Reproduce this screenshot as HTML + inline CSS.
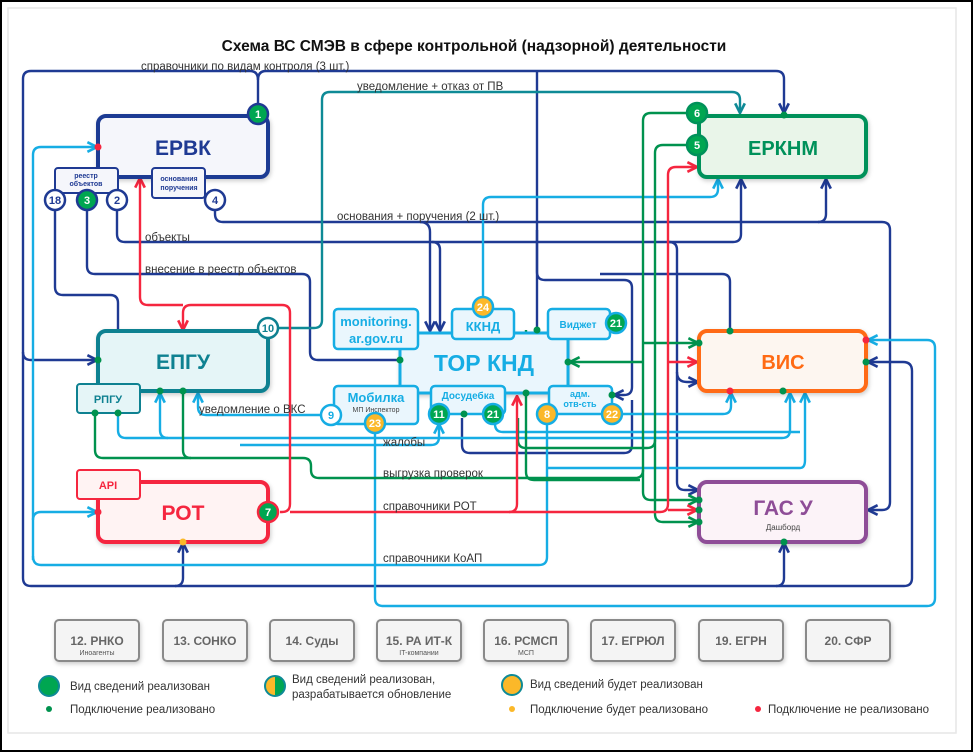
<!DOCTYPE html>
<html><head><meta charset="utf-8"><style>
html,body{margin:0;padding:0;background:#fff}
svg{display:block}
text{font-family:"Liberation Sans","DejaVu Sans",sans-serif}
</style></head><body>
<svg width="973" height="752" viewBox="0 0 973 752" xmlns="http://www.w3.org/2000/svg">
<defs>
<filter id="sh" x="-10%" y="-10%" width="130%" height="140%"><feDropShadow dx="1" dy="2" stdDeviation="2" flood-color="#000" flood-opacity="0.2"/></filter>
<marker id="aN" viewBox="0 0 10 10" refX="9" refY="5" markerWidth="5" markerHeight="5" orient="auto"><path d="M1,1 L9,5 L1,9" fill="none" stroke="#1f3a93" stroke-width="2.2"/></marker>
<marker id="aC" viewBox="0 0 10 10" refX="9" refY="5" markerWidth="5" markerHeight="5" orient="auto"><path d="M1,1 L9,5 L1,9" fill="none" stroke="#16ade4" stroke-width="2.2"/></marker>
<marker id="aG" viewBox="0 0 10 10" refX="9" refY="5" markerWidth="5" markerHeight="5" orient="auto"><path d="M1,1 L9,5 L1,9" fill="none" stroke="#00924e" stroke-width="2.2"/></marker>
<marker id="aR" viewBox="0 0 10 10" refX="9" refY="5" markerWidth="5" markerHeight="5" orient="auto"><path d="M1,1 L9,5 L1,9" fill="none" stroke="#f5263f" stroke-width="2.2"/></marker>
<marker id="aT" viewBox="0 0 10 10" refX="9" refY="5" markerWidth="5" markerHeight="5" orient="auto"><path d="M1,1 L9,5 L1,9" fill="none" stroke="#0e8a96" stroke-width="2.2"/></marker>
</defs>
<rect x="1" y="1" width="971" height="750" fill="#fff" stroke="#000" stroke-width="2"/>
<rect x="8" y="8" width="948" height="725" fill="#fff" stroke="#e6e6e6" stroke-width="1.5"/>
<text x="474" y="51" text-anchor="middle" font-size="15.5" font-weight="bold" fill="#111">Схема ВС СМЭВ в сфере контрольной (надзорной) деятельности</text>

<g fill="none" stroke-width="2.4" stroke-linejoin="round">
<g stroke="#1f3a93">
<path d="M258,104 V80 Q258,71 250,71 H31 Q23,71 23,79 V578 Q23,586 31,586 H904 Q912,586 912,578 V371 Q912,362 903,362 H868" marker-end="url(#aN)"/>
<path d="M258,80 Q258,71 266,71 H776 Q784,71 784,79 V113" marker-end="url(#aN)"/>
<path d="M23,352 Q23,360 31,360 H97" marker-end="url(#aN)"/>
<path d="M175,586 Q183,586 183,578 V543" marker-end="url(#aN)"/>
<path d="M776,586 Q784,586 784,578 V543" marker-end="url(#aN)"/>
<path d="M55,210 V287 Q55,295 63,295 H110 Q118,295 118,303 V330"/>
<path d="M87,210 V266 Q87,274 95,274 H302 Q310,274 310,282 V352 Q310,360 318,360 H400"/>
<path d="M117,210 V234 Q117,242 125,242 H733 Q741,242 741,234 V179" marker-end="url(#aN)"/>
<path d="M669,242 Q677,242 677,250 V482 Q677,490 685,490 H698" marker-end="url(#aN)"/>
<path d="M215,210 V214 Q215,222 223,222 H818 Q826,222 826,214 V179" marker-end="url(#aN)"/>
<path d="M818,222 H882 Q890,222 890,230 V502 Q890,510 882,510 H868" marker-end="url(#aN)"/>
<path d="M420,222 Q430,222 430,232 V331" marker-end="url(#aN)"/>
<path d="M432,242 Q440,242 440,250 V331" marker-end="url(#aN)"/>
<path d="M537,71 V272 Q537,280 545,280 H624 Q632,280 632,288 V387 Q632,395 624,395 H614" marker-end="url(#aN)"/>
<path d="M537,230 V330" />
<path d="M600,274 H722 Q730,274 730,282 V330"/>
<path d="M677,372 Q677,382 687,382 H698" marker-end="url(#aN)"/>
<path d="M462,418 V445 Q462,453 470,453 H624 Q632,453 632,445 V400"/>
</g>
<path stroke="#0e8a96" d="M278,328 H314 Q322,328 322,320 V100 Q322,92 330,92 H732 Q740,92 740,100 V113" marker-end="url(#aT)"/>
<g stroke="#16ade4">
<path d="M33,560 V155 Q33,147 41,147 H97" marker-end="url(#aC)"/>
<path d="M33,520 Q33,512 41,512 H97" marker-end="url(#aC)"/>
<path d="M33,556 Q33,565 41,565 H539 Q547,565 547,557 V424"/>
<path d="M375,433 V598 Q375,606 383,606 H927 Q935,606 935,598 V348 Q935,340 927,340 H868" marker-end="url(#aC)"/>
<path d="M483,297 V205 Q483,197 491,197 H710 Q718,197 718,189 V179" marker-end="url(#aC)"/>
<path d="M321,415 H206 Q198,415 198,407 V393" marker-end="url(#aC)"/>
<path d="M118,413 V430 Q118,438 126,438 H782 Q790,438 790,430 V393" marker-end="url(#aC)"/>
<path d="M168,438 Q160,438 160,430 V393" marker-end="url(#aC)"/>
<path d="M240,445 H431 Q439,445 439,437 V424" marker-end="url(#aC)"/>
<path d="M622,414 H723 Q731,414 731,406 V393" marker-end="url(#aC)"/>
<path d="M495,424 Q495,432 503,432 H800"/>
<path d="M547,468 H800 Q805,468 805,460 V393" marker-end="url(#aC)"/>
</g>
<g stroke="#00924e">
<path d="M686,113 H651 Q643,113 643,121 V492 Q643,500 651,500 H698" marker-end="url(#aG)"/>
<path d="M686,145 H663 Q655,145 655,153 V514 Q655,522 663,522 H698" marker-end="url(#aG)"/>
<path d="M643,343 H698" marker-end="url(#aG)"/>
<path d="M643,362 H570" marker-end="url(#aG)"/>
<path d="M95,413 V450 Q95,458 103,458 H303 Q311,458 311,466 V470 Q311,478 319,478 H635 Q643,478 643,470"/>
<path d="M183,393 V450 Q183,458 191,458"/>
<path d="M518,418 V440 Q518,448 526,448 H647 Q655,448 655,440"/>
<path d="M526,330 V472 Q526,480 534,480 H640"/>
</g>
<g stroke="#f5263f">
<path d="M280,512 H282 Q290,512 290,504 V313 Q290,305 282,305 H191 Q183,305 183,313 V330" marker-end="url(#aR)"/>
<path d="M183,305 H148 Q140,305 140,297 V178" marker-end="url(#aR)"/>
<path d="M290,512 H660 Q668,512 668,504 V175 Q668,167 676,167 H697" marker-end="url(#aR)"/>
<path d="M668,362 H697" marker-end="url(#aR)"/>
<path d="M668,510 H697" marker-end="url(#aR)"/>
<path d="M509,512 Q517,512 517,504 V396" marker-end="url(#aR)"/>
</g>
</g>

<g font-size="11.5" fill="#333">
<text x="141" y="70">справочники по видам контроля (3 шт.)</text>
<text x="357" y="90">уведомление + отказ от ПВ</text>
<text x="337" y="220">основания + поручения  (2 шт.)</text>
<text x="145" y="241">объекты</text>
<text x="145" y="273">внесение в реестр объектов</text>
<text x="199" y="413">уведомление о ВКС</text>
<text x="383" y="446">жалобы</text>
<text x="383" y="477">выгрузка проверок</text>
<text x="383" y="510">справочники РОТ</text>
<text x="383" y="562">справочники КоАП</text>
</g>

<g filter="url(#sh)" stroke-width="4">
<rect x="98" y="116" width="170" height="61" rx="8" fill="#f5f6fb" stroke="#1f3a93"/>
<rect x="699" y="116" width="167" height="61" rx="8" fill="#e9f5e9" stroke="#00915a"/>
<rect x="98" y="331" width="170" height="60" rx="8" fill="#e5f5f7" stroke="#0e8191"/>
<rect x="98" y="482" width="170" height="60" rx="8" fill="#fff3f3" stroke="#f5263f"/>
<rect x="699" y="331" width="167" height="60" rx="8" fill="#fdf6f0" stroke="#ff6a13"/>
<rect x="699" y="482" width="167" height="60" rx="8" fill="#fcf3f8" stroke="#8e4d97"/>
<rect x="400" y="333" width="168" height="60" rx="4" fill="#eaf6fd" stroke="#16ade4" stroke-width="3"/>
</g>
<g font-weight="bold" text-anchor="middle">
<text x="183" y="155" font-size="21" fill="#1f3a93">ЕРВК</text>
<text x="783" y="155" font-size="20" fill="#00915a">ЕРКНМ</text>
<text x="183" y="369" font-size="21" fill="#0e8191">ЕПГУ</text>
<text x="183" y="520" font-size="21" fill="#f5263f">РОТ</text>
<text x="783" y="369" font-size="20" fill="#ff6a13">ВИС</text>
<text x="783" y="515" font-size="21" fill="#8e4d97">ГАС У</text>
<text x="783" y="530" font-size="8" font-weight="normal" fill="#444">Дашборд</text>
<text x="484" y="371" font-size="23" fill="#16ade4">ТОР КНД</text>
</g>

<g stroke-width="2">
<rect x="55" y="168" width="63" height="25" rx="3" fill="#f5f6fb" stroke="#1f3a93"/>
<rect x="152" y="168" width="53" height="30" rx="3" fill="#f5f6fb" stroke="#1f3a93"/>
<rect x="77" y="384" width="63" height="29" rx="3" fill="#e5f5f7" stroke="#0e8191"/>
<rect x="77" y="470" width="63" height="29" rx="3" fill="#fff3f3" stroke="#f5263f"/>
<g fill="#eaf6fd" stroke="#16ade4" stroke-width="2.5">
<rect x="334" y="309" width="84" height="40" rx="4"/>
<rect x="452" y="309" width="62" height="30" rx="4"/>
<rect x="548" y="309" width="62" height="30" rx="4"/>
<rect x="334" y="386" width="84" height="38" rx="4"/>
<rect x="431" y="386" width="74" height="28" rx="4"/>
<rect x="549" y="386" width="63" height="28" rx="4"/>
</g>
</g>
<g font-weight="bold" text-anchor="middle">
<text x="86" y="178" font-size="7" fill="#1f3a93">реестр</text>
<text x="86" y="186" font-size="7" fill="#1f3a93">объектов</text>
<text x="179" y="181" font-size="7" fill="#1f3a93">основания</text>
<text x="179" y="190" font-size="7" fill="#1f3a93">поручения</text>
<text x="108" y="403" font-size="11" fill="#0e8191">РПГУ</text>
<text x="108" y="489" font-size="11" fill="#f5263f">API</text>
<text x="376" y="326" font-size="13" fill="#16ade4">monitoring.</text>
<text x="376" y="343" font-size="13" fill="#16ade4">ar.gov.ru</text>
<text x="483" y="331" font-size="13" fill="#16ade4">ККНД</text>
<text x="578" y="328" font-size="10" fill="#16ade4">Виджет</text>
<text x="376" y="402" font-size="13" fill="#16ade4">Мобилка</text>
<text x="376" y="412" font-size="7" font-weight="normal" fill="#444">МП Инспектор</text>
<text x="468" y="399" font-size="10" fill="#16ade4">Досудебка</text>
<text x="580" y="397" font-size="9" fill="#16ade4">адм.</text>
<text x="580" y="407" font-size="9" fill="#16ade4">отв-сть</text>
</g>

<g stroke-width="2.5" font-weight="bold" font-size="11" text-anchor="middle">
<g stroke="#1f3a93"><circle cx="55" cy="200" r="10" fill="#fff"/><circle cx="87" cy="200" r="10" fill="#00a651"/><circle cx="117" cy="200" r="10" fill="#fff"/><circle cx="215" cy="200" r="10" fill="#fff"/><circle cx="258" cy="114" r="10" fill="#00a651"/></g>
<g stroke="#00915a"><circle cx="697" cy="113" r="10" fill="#00a651"/><circle cx="697" cy="145" r="10" fill="#00a651"/></g>
<circle cx="268" cy="328" r="10" fill="#fff" stroke="#0e8191"/>
<circle cx="268" cy="512" r="10" fill="#00a651" stroke="#f5263f"/>
<g stroke="#16ade4"><circle cx="483" cy="307" r="10" fill="#fbb829"/><circle cx="616" cy="323" r="10" fill="#00a651"/><circle cx="331" cy="415" r="10" fill="#fff"/><circle cx="375" cy="423" r="10" fill="#fbb829"/><circle cx="439" cy="414" r="10" fill="#00a651"/><circle cx="493" cy="414" r="10" fill="#00a651"/><circle cx="547" cy="414" r="10" fill="#fbb829"/><circle cx="612" cy="414" r="10" fill="#fbb829"/></g>
<g stroke="none">
<text x="55" y="204" fill="#1f3a93">18</text><text x="87" y="204" fill="#fff">3</text><text x="117" y="204" fill="#1f3a93">2</text><text x="215" y="204" fill="#1f3a93">4</text><text x="258" y="118" fill="#fff">1</text>
<text x="697" y="117" fill="#fff">6</text><text x="697" y="149" fill="#fff">5</text>
<text x="268" y="332" fill="#0e8191">10</text><text x="268" y="516" fill="#fff">7</text>
<text x="483" y="311" fill="#fff">24</text><text x="616" y="327" fill="#fff">21</text><text x="331" y="419" fill="#16ade4">9</text><text x="375" y="427" fill="#fff">23</text><text x="439" y="418" fill="#fff">11</text><text x="493" y="418" fill="#fff">21</text><text x="547" y="418" fill="#fff">8</text><text x="612" y="418" fill="#fff">22</text>
</g>
</g>

<g fill="#00924e">
<circle cx="98" cy="360" r="3.5"/><circle cx="160" cy="391" r="3.5"/><circle cx="183" cy="391" r="3.5"/><circle cx="95" cy="413" r="3.5"/><circle cx="118" cy="413" r="3.5"/>
<circle cx="400" cy="360" r="3.5"/><circle cx="537" cy="330" r="3.5"/><circle cx="568" cy="362" r="3.5"/><circle cx="526" cy="393" r="3.5"/><circle cx="612" cy="395" r="3.5"/><circle cx="464" cy="414" r="3.5"/>
<circle cx="784" cy="115" r="3.5"/><circle cx="730" cy="331" r="3.5"/><circle cx="699" cy="343" r="3.5"/><circle cx="783" cy="391" r="3.5"/><circle cx="866" cy="362" r="3.5"/>
<circle cx="699" cy="500" r="3.5"/><circle cx="699" cy="510" r="3.5"/><circle cx="699" cy="522" r="3.5"/><circle cx="784" cy="542" r="3.5"/>
</g>
<g fill="#f5263f"><circle cx="98" cy="147" r="3.5"/><circle cx="98" cy="512" r="3.5"/><circle cx="730" cy="391" r="3.5"/><circle cx="866" cy="340" r="3.5"/></g>
<circle cx="183" cy="542" r="3.5" fill="#fbb829"/>

<g filter="url(#sh)" fill="#f4f4f4" stroke="#8a8a8a" stroke-width="2">
<rect x="55" y="620" width="84" height="41" rx="4"/><rect x="163" y="620" width="84" height="41" rx="4"/><rect x="270" y="620" width="84" height="41" rx="4"/><rect x="377" y="620" width="84" height="41" rx="4"/><rect x="484" y="620" width="84" height="41" rx="4"/><rect x="591" y="620" width="84" height="41" rx="4"/><rect x="699" y="620" width="84" height="41" rx="4"/><rect x="806" y="620" width="84" height="41" rx="4"/>
</g>
<g font-size="12" font-weight="bold" fill="#666" text-anchor="middle">
<text x="97" y="645">12. РНКО</text><text x="205" y="645">13. СОНКО</text><text x="312" y="645">14. Суды</text><text x="419" y="645">15. РА ИТ-К</text><text x="526" y="645">16. РСМСП</text><text x="633" y="645">17. ЕГРЮЛ</text><text x="741" y="645">19. ЕГРН</text><text x="848" y="645">20. СФР</text>
</g>
<g font-size="7" fill="#555" text-anchor="middle"><text x="97" y="655">Иноагенты</text><text x="419" y="655">IT-компании</text><text x="526" y="655">МСП</text></g>

<circle cx="49" cy="686" r="10" fill="#00a651" stroke="#0e8a96" stroke-width="2"/>
<path d="M275,676 A10,10 0 0 0 275,696 Z" fill="#fbb829"/><path d="M275,676 A10,10 0 0 1 275,696 Z" fill="#00a651"/><circle cx="275" cy="686" r="10" fill="none" stroke="#0e8a96" stroke-width="2"/>
<circle cx="512" cy="685" r="10" fill="#fbb829" stroke="#0e8a96" stroke-width="2"/>
<circle cx="49" cy="709" r="3" fill="#00924e"/><circle cx="512" cy="709" r="3" fill="#fbb829"/><circle cx="758" cy="709" r="3" fill="#f5263f"/>
<g font-size="11.5" fill="#333">
<text x="70" y="690">Вид сведений реализован</text>
<text x="292" y="683">Вид сведений реализован,</text>
<text x="292" y="698">разрабатывается обновление</text>
<text x="530" y="688">Вид сведений будет реализован</text>
<text x="70" y="713">Подключение реализовано</text>
<text x="530" y="713">Подключение будет реализовано</text>
<text x="768" y="713">Подключение не реализовано</text>
</g>
</svg>
</body></html>
